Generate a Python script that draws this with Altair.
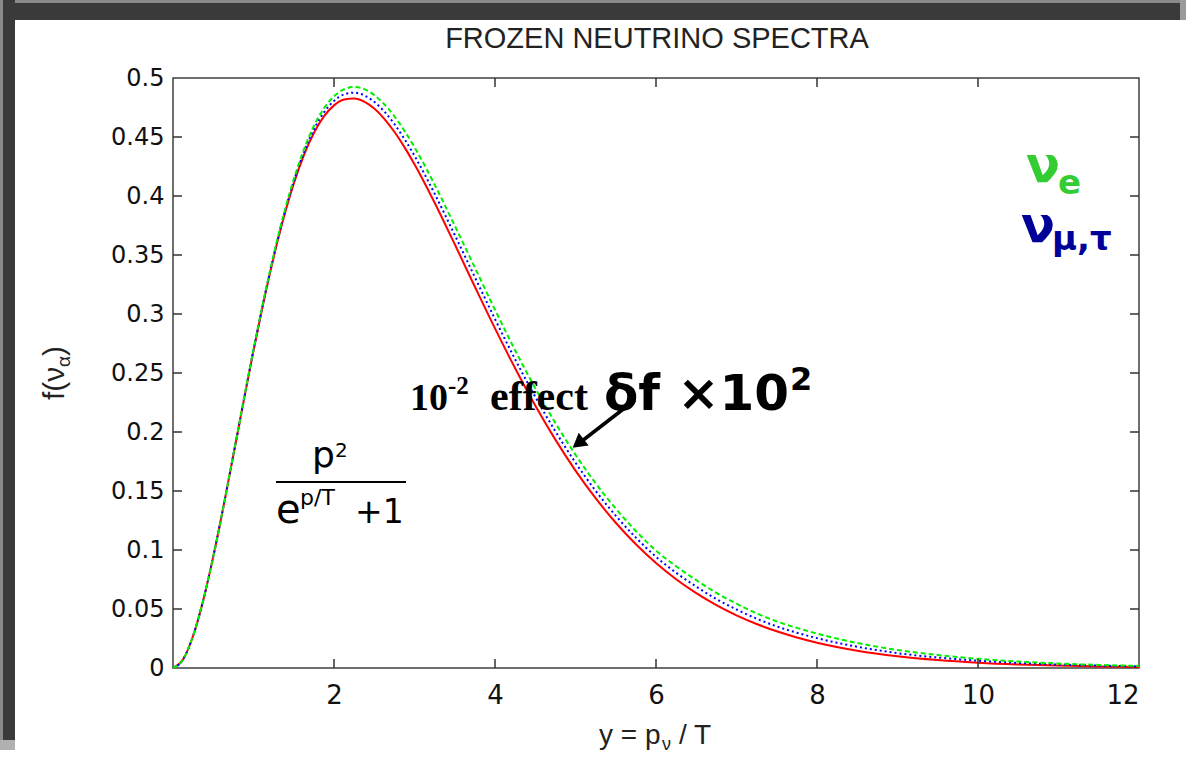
import altair as alt
import pandas as pd

# ---- data ----
y_vals = [0, 0.125, 0.25, 0.375, 0.5, 0.625, 0.75, 0.875, 1.0, 1.125, 1.25, 1.375, 1.5, 1.625,
          1.75, 1.875, 2.0, 2.125, 2.25, 2.375, 2.5, 2.625, 2.75, 2.875, 3.0, 3.25, 3.5,
          3.75, 4.0, 4.25, 4.5, 4.75, 5.0, 5.25, 5.5, 5.75, 6.0, 6.25, 6.5, 6.75, 7.0, 7.25,
          7.5, 7.75, 8.0, 8.5, 9.0, 9.5, 10.0, 10.5, 11.0, 11.5, 12.0]
f_red = [0, 0.0073, 0.02736, 0.05728, 0.09439, 0.13619, 0.18046, 0.22526, 0.26894, 0.31019,
         0.34797, 0.38155, 0.41046, 0.43443, 0.45339, 0.46745, 0.47681, 0.48177, 0.48271,
         0.48002, 0.47412, 0.46544, 0.45441, 0.44141, 0.42683, 0.39427, 0.35907, 0.32312,
         0.28778, 0.25403, 0.22248, 0.19353, 0.16732, 0.14388, 0.12312, 0.10490, 0.08901,
         0.07526, 0.06343, 0.05329, 0.04464, 0.03730, 0.03109, 0.02586, 0.02146, 0.01470,
         0.00999, 0.00675, 0.00454, 0.00304, 0.00202, 0.00134, 0.00089]
f_blue = [0, 0.0073, 0.02736, 0.05729, 0.09444, 0.13629, 0.18064, 0.22560, 0.26948, 0.31097,
          0.34901, 0.38298, 0.41231, 0.43682, 0.45634, 0.47084, 0.48062, 0.48611, 0.48754,
          0.48530, 0.47981, 0.47161, 0.46100, 0.44836, 0.43409, 0.40196, 0.36697, 0.33120,
          0.29569, 0.26165, 0.22982, 0.20059, 0.17401, 0.15021, 0.12909, 0.11051, 0.09426,
          0.08070, 0.06900, 0.05840, 0.04960, 0.04180, 0.03530, 0.02990, 0.02530, 0.01800,
          0.01260, 0.00890, 0.00620, 0.00430, 0.00290, 0.00200, 0.00130]
f_green = [0, 0.0073, 0.02736, 0.05731, 0.09448, 0.13639, 0.18082, 0.22594, 0.27002, 0.31174,
           0.35006, 0.38441, 0.41415, 0.43921, 0.45928, 0.47423, 0.48444, 0.49044, 0.49236,
           0.49058, 0.48550, 0.47777, 0.46759, 0.45531, 0.44134, 0.40965, 0.37487, 0.33928,
           0.30361, 0.26927, 0.23716, 0.20766, 0.18071, 0.15654, 0.13506, 0.11612, 0.09951,
           0.08620, 0.07450, 0.06360, 0.05450, 0.04630, 0.03950, 0.03400, 0.02920, 0.02120,
           0.01530, 0.01100, 0.00780, 0.00550, 0.00380, 0.00260, 0.00180]
x_tick_labels = [2, 4, 6, 8, 10, 12]
x_inner_ticks = [2, 4, 6, 8, 10]
y_tick_labels = [0, 0.05, 0.1, 0.15, 0.2, 0.25, 0.3, 0.35, 0.4, 0.45, 0.5]
y_inner_ticks = [0.05, 0.1, 0.15, 0.2, 0.25, 0.3, 0.35, 0.4, 0.45]

W, H = 966, 590
SANS = "Liberation Sans"
WIDE = "DejaVu Sans"
xs = alt.Scale(domain=[0, 12], nice=False, zero=False)
ys = alt.Scale(domain=[0, 0.5], nice=False)

one = pd.DataFrame({"k": [0]})

x_axis = alt.Axis(values=x_tick_labels, ticks=False, domain=False, grid=False,
                  labelFont=WIDE, labelFontSize=26, labelColor="#111",
                  labelPadding=14, title=None)
y_axis = alt.Axis(values=y_tick_labels, ticks=False, domain=False, grid=False,
                  labelFont=WIDE, labelFontSize=24, labelColor="#111",
                  labelPadding=9, title=None, format="~g")


def series_df(vals):
    return pd.DataFrame({"y": y_vals, "f": vals})


def xe(field):
    return alt.X(field, scale=xs, axis=x_axis)


def ye(field):
    return alt.Y(field, scale=ys, axis=y_axis)


red = alt.Chart(series_df(f_red)).mark_line(color="#ff0000", strokeWidth=2, interpolate="monotone").encode(
    x=xe("y:Q"), y=ye("f:Q"))
blue = alt.Chart(series_df(f_blue)).mark_line(color="#0000ff", strokeWidth=2, strokeDash=[2, 3],
                                              interpolate="monotone").encode(x=xe("y:Q"), y=ye("f:Q"))
green = alt.Chart(series_df(f_green)).mark_line(color="#00ee00", strokeWidth=2, strokeDash=[5, 3],
                                                interpolate="monotone").encode(x=xe("y:Q"), y=ye("f:Q"))

xt = pd.DataFrame({"t": x_inner_ticks})
yt = pd.DataFrame({"t": y_inner_ticks})
TC = "#333"
tick_b = alt.Chart(xt).mark_rule(color=TC, strokeWidth=1.5).encode(
    x=xe("t:Q"), y=alt.value(H), y2=alt.value(H - 9))
tick_t = alt.Chart(xt).mark_rule(color=TC, strokeWidth=1.5).encode(
    x=xe("t:Q"), y=alt.value(0), y2=alt.value(9))
tick_l = alt.Chart(yt).mark_rule(color=TC, strokeWidth=1.5).encode(
    y=ye("t:Q"), x=alt.value(0), x2=alt.value(9))
tick_r = alt.Chart(yt).mark_rule(color=TC, strokeWidth=1.5).encode(
    y=ye("t:Q"), x=alt.value(W - 9), x2=alt.value(W))

OX, OY = 173, 78  # plot origin in page pixels


def txt(s, x, y, size, font=SANS, color="#000", weight="normal", angle=0, align="left"):
    return alt.Chart(one).mark_text(text=s, font=font, fontSize=size, color=color,
                                    fontWeight=weight, angle=angle, align=align,
                                    baseline="alphabetic").encode(
        x=alt.value(x - OX), y=alt.value(y - OY))


def rect(x1, x2, y1, y2, color):
    return alt.Chart(one).mark_rect(color=color).encode(
        x=alt.value(x1 - OX), x2=alt.value(x2 - OX), y=alt.value(y1 - OY), y2=alt.value(y2 - OY))


shadow = [
    rect(0, 1180, 3, 20, "#3a3a3a"),
    rect(0, 1180, 0, 3, "#8a8a8a"),
    rect(1180, 1186, 0, 20, "#9a9a9a"),
    rect(3, 15, 0, 740, "#3a3a3a"),
    rect(0, 3, 0, 740, "#8a8a8a"),
    rect(0, 15, 740, 750, "#b0b0b0"),
]

texts = [
    txt("FROZEN NEUTRINO SPECTRA", 657, 48, 29, color="#222", align="center"),
    # x title
    txt("y = p", 599, 744, 28, color="#222"),
    txt("ν", 662, 750, 18, color="#222"),
    txt("/ T", 679, 744, 28, color="#222"),
    # y title (rotated)
    txt("f(ν", 64, 400, 30, color="#222", angle=270),
    txt("α", 70, 367, 19, color="#222", angle=270),
    txt(")", 64, 356, 30, color="#222", angle=270),
    # legend-like labels
    txt("ν", 1026, 182, 50, font=WIDE, color="#33cc33", weight="bold"),
    txt("e", 1058, 194, 34, font=WIDE, color="#33cc33", weight="bold"),
    txt("ν", 1021, 242, 50, font=WIDE, color="#000099", weight="bold"),
    txt("μ,τ", 1052, 250, 34, font=WIDE, color="#000099", weight="bold"),
    # 10^-2 effect
    txt("10", 410, 410, 38, font="Liberation Serif", weight="bold"),
    txt("-2", 448, 394, 25, font="Liberation Serif", weight="bold"),
    txt("effect", 490, 410, 42, font="Liberation Serif", weight="bold"),
    # delta f x10^2
    txt("δf ×10", 604, 410, 50, font=WIDE, weight="bold"),
    txt("2", 790, 390, 32, font=WIDE, weight="bold"),
    # formula
    txt("p", 312, 467, 36, font=WIDE),
    txt("2", 335, 457, 20, font=WIDE),
    txt("e", 276, 523, 40, font=WIDE),
    txt("p/T", 300, 505, 22, font=WIDE),
    txt("+1", 355, 523, 33, font=WIDE),
]

bar = alt.Chart(one).mark_rule(color="#000", strokeWidth=2).encode(
    x=alt.value(276 - OX), x2=alt.value(406 - OX), y=alt.value(482 - OY))
arrow_line = alt.Chart(one).mark_rule(color="#000", strokeWidth=3.5).encode(
    x=alt.value(635 - OX), y=alt.value(400 - OY), x2=alt.value(582 - OX), y2=alt.value(441 - OY))
arrow_head = alt.Chart(one).mark_point(shape="triangle", filled=True, size=260, angle=232,
                                       color="#000", opacity=1).encode(
    x=alt.value(580 - OX), y=alt.value(442 - OY))

chart = alt.layer(*shadow, red, blue, green, tick_b, tick_t, tick_l, tick_r,
                  bar, arrow_line, arrow_head, *texts).properties(
    width=W, height=H,
    padding={"left": OX, "top": OY, "right": 1191 - OX - W, "bottom": 758 - OY - H},
    autosize=alt.AutoSizeParams(type="none"),
    background="white",
).configure_view(stroke="#404040", strokeWidth=1.5)

chart.save("out.html", embed_options={"renderer": "svg", "actions": False})
